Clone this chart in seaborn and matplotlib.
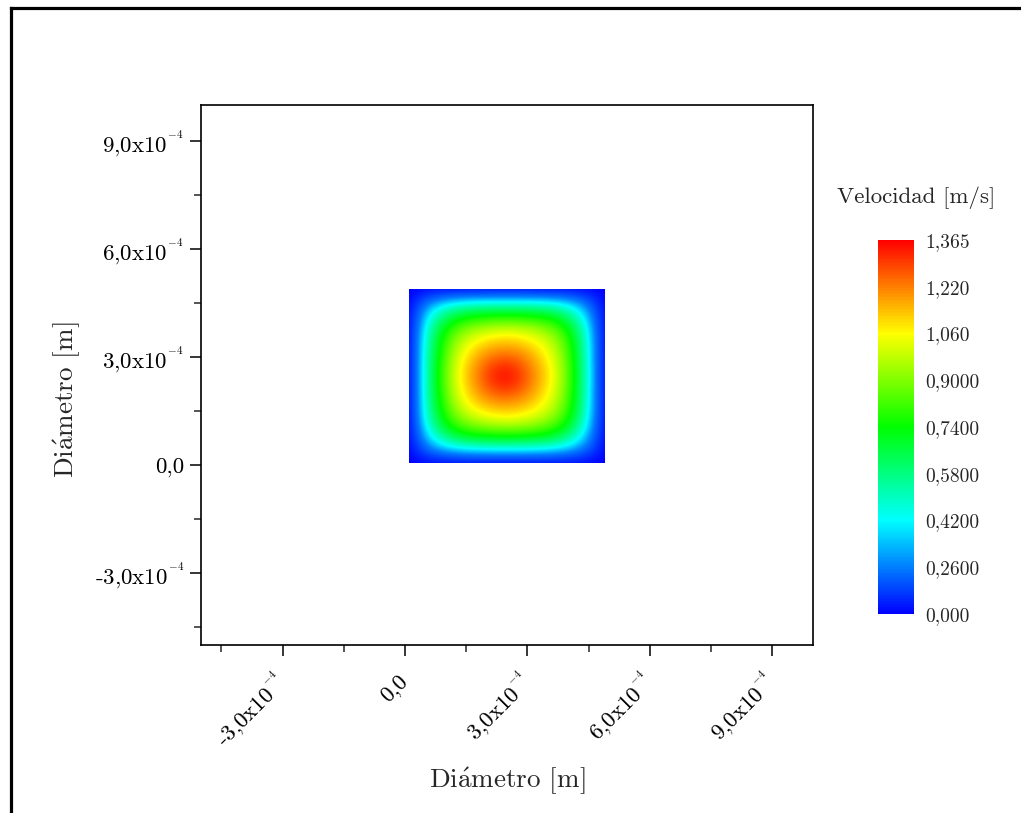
import numpy as np
import matplotlib
matplotlib.use("Agg")
import matplotlib.pyplot as plt
import seaborn as sns
from matplotlib.colors import LinearSegmentedColormap, FuncNorm
from matplotlib.patches import Rectangle
from matplotlib.lines import Line2D

# Velocity samples over the square duct cross-section (m/s).
# Rows run from the bottom wall (y min) to the top wall, columns from left to right.
velocity = [
    [0.00, 0.00, 0.00, 0.00, 0.00, 0.00, 0.000, 0.00, 0.00, 0.00, 0.00, 0.00, 0.00],
    [0.00, 0.22, 0.35, 0.42, 0.45, 0.46, 0.460, 0.46, 0.45, 0.42, 0.35, 0.21, 0.00],
    [0.00, 0.37, 0.59, 0.72, 0.77, 0.79, 0.800, 0.79, 0.77, 0.72, 0.58, 0.34, 0.00],
    [0.00, 0.46, 0.72, 0.88, 0.97, 1.02, 1.040, 1.02, 0.97, 0.88, 0.71, 0.42, 0.00],
    [0.00, 0.49, 0.77, 0.98, 1.10, 1.16, 1.180, 1.15, 1.08, 0.97, 0.76, 0.45, 0.00],
    [0.00, 0.50, 0.80, 1.03, 1.17, 1.27, 1.300, 1.25, 1.14, 1.01, 0.78, 0.46, 0.00],
    [0.00, 0.50, 0.81, 1.05, 1.20, 1.32, 1.365, 1.29, 1.17, 1.03, 0.79, 0.46, 0.00],
    [0.00, 0.50, 0.80, 1.03, 1.17, 1.27, 1.300, 1.25, 1.14, 1.01, 0.78, 0.46, 0.00],
    [0.00, 0.49, 0.77, 0.98, 1.10, 1.16, 1.180, 1.15, 1.08, 0.97, 0.76, 0.45, 0.00],
    [0.00, 0.46, 0.73, 0.89, 0.98, 1.03, 1.050, 1.03, 0.98, 0.89, 0.72, 0.43, 0.00],
    [0.00, 0.39, 0.61, 0.73, 0.78, 0.80, 0.810, 0.80, 0.78, 0.73, 0.60, 0.36, 0.00],
    [0.00, 0.25, 0.39, 0.46, 0.49, 0.50, 0.500, 0.50, 0.49, 0.46, 0.38, 0.23, 0.00],
    [0.00, 0.00, 0.00, 0.00, 0.00, 0.00, 0.000, 0.00, 0.00, 0.00, 0.00, 0.00, 0.00],
]

# Duct extent (m)
x_range = [1.0e-5, 4.9e-4]
y_range = [0.5e-5, 4.88e-4]

# Axis ticks
major_ticks = [-3e-4, 0.0, 3e-4, 6e-4, 9e-4]
major_labels = [r"-3,0x10$^{{}^{-4}}$", "0,0", r"3,0x10$^{{}^{-4}}$",
                r"6,0x10$^{{}^{-4}}$", r"9,0x10$^{{}^{-4}}$"]
minor_ticks = [-4.5e-4, -1.5e-4, 1.5e-4, 4.5e-4, 7.5e-4]
axis_limits = [-5e-4, 1e-3]

# Colour levels of the velocity scale
level_values = [0.0, 0.26, 0.42, 0.58, 0.74, 0.90, 1.06, 1.22, 1.365]
level_labels = ["0,000", "0,2600", "0,4200", "0,5800", "0,7400",
                "0,9000", "1,060", "1,220", "1,365"]

sns.set_style("white")
plt.rcParams["font.family"] = ["cmr10", "DejaVu Serif"]
plt.rcParams["mathtext.fontset"] = "cm"
plt.rcParams["axes.unicode_minus"] = False
plt.rcParams["axes.formatter.use_mathtext"] = True

Z = np.array(velocity)
ny, nx = Z.shape
dx = (x_range[1] - x_range[0]) / (nx - 1)
dy = (y_range[1] - y_range[0]) / (ny - 1)

cmap = LinearSegmentedColormap.from_list(
    "rainbow5", ["#0000ff", "#00ffff", "#00ff00", "#ffff00", "#ff0000"])
positions = np.linspace(0, 1, len(level_values))


def _fwd(v):
    return np.interp(v, level_values, positions)


def _inv(p):
    return np.interp(p, positions, level_values)


norm = FuncNorm((_fwd, _inv), vmin=level_values[0], vmax=level_values[-1])

fig = plt.figure(figsize=(10.21, 8.13), dpi=100)
ax = fig.add_axes([201 / 1021, 1 - 645 / 813, 612 / 1021, 540 / 813])

im = ax.imshow(Z, origin="lower", cmap=cmap, norm=norm,
               interpolation="bicubic", interpolation_stage="data",
               extent=(x_range[0] - dx / 2, x_range[1] + dx / 2,
                       y_range[0] - dy / 2, y_range[1] + dy / 2),
               aspect="auto", zorder=1)
im.set_clip_path(Rectangle((x_range[0], y_range[0]),
                           x_range[1] - x_range[0], y_range[1] - y_range[0],
                           transform=ax.transData))

ax.set_xlim(axis_limits)
ax.set_ylim(axis_limits)
ax.set_xticks(major_ticks)
ax.set_xticklabels(major_labels)
ax.set_yticks(major_ticks)
ax.set_yticklabels(major_labels)
ax.set_xticks(minor_ticks, minor=True)
ax.set_yticks(minor_ticks, minor=True)

for s in ax.spines.values():
    s.set_linewidth(1.2)
    s.set_color("black")
ax.tick_params(which="major", direction="out", length=8, width=1.1,
               labelsize=16.5, colors="black", bottom=True, left=True,
               top=False, right=False)
ax.tick_params(which="minor", direction="out", length=5, width=1.1,
               bottom=True, left=True, top=False, right=False)
ax.tick_params(axis="y", pad=4)
ax.tick_params(axis="x", pad=16)
for lab in ax.get_xticklabels():
    lab.set_rotation(45)
    lab.set_ha("right")
    lab.set_va("center")
    lab.set_rotation_mode("anchor")

xlabel_text = r"Di$\mathrm{\acute{a}}$metro [m]"
fig.text(507 / 1021, 1 - 781 / 813, xlabel_text, ha="center", va="center",
         fontsize=19.5)
fig.text(67 / 1021, 1 - 400 / 813, xlabel_text, ha="center", va="center",
         rotation=90, fontsize=19.5)

# Colour scale
cax = fig.add_axes([878 / 1021, 1 - 614 / 813, 36 / 1021, 374 / 813])
cb = fig.colorbar(im, cax=cax)
cb.set_ticks(level_values)
cb.set_ticklabels(level_labels)
cb.outline.set_visible(False)
cax.tick_params(length=0, labelsize=14, pad=8)
fig.text(916 / 1021, 1 - 198 / 813, "Velocidad [m/s]", ha="center",
         va="center", fontsize=16.5)

# Page frame on the left and top
fig.add_artist(Line2D([10.5 / 1021, 10.5 / 1021], [0, 1 - 8.5 / 813],
                      transform=fig.transFigure, color="black", lw=2.3,
                      solid_capstyle="projecting"))
fig.add_artist(Line2D([10.5 / 1021, 1], [1 - 8.5 / 813, 1 - 8.5 / 813],
                      transform=fig.transFigure, color="black", lw=2.3,
                      solid_capstyle="projecting"))

fig.savefig("out.png", dpi=100)
